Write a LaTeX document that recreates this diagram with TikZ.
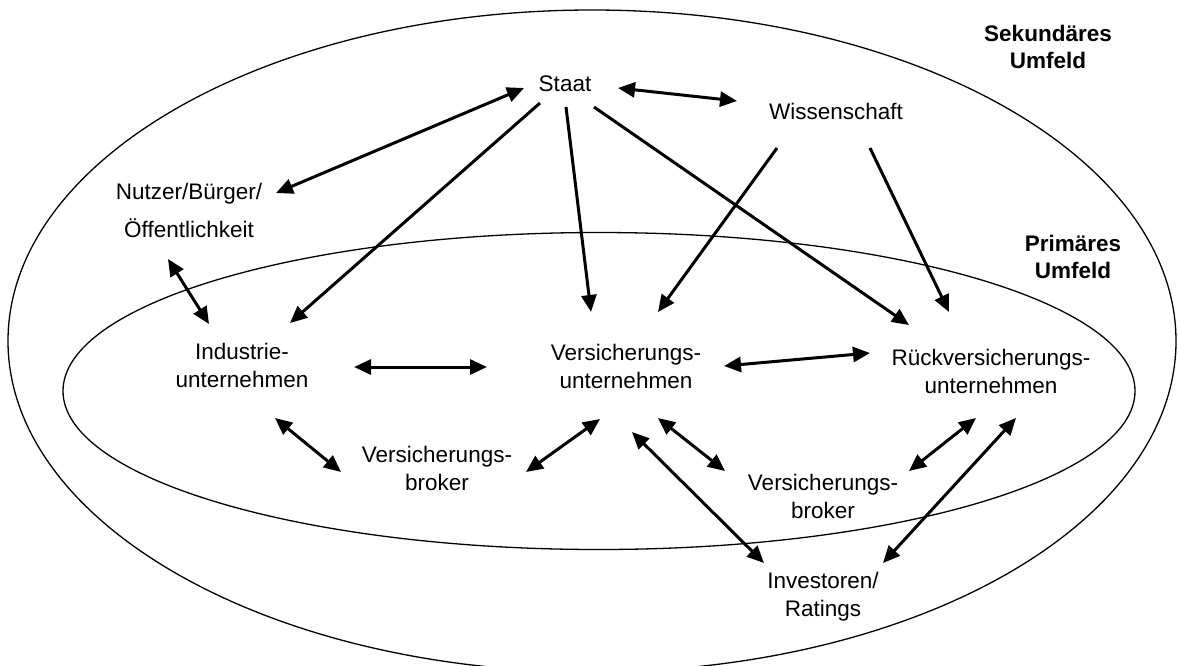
\documentclass[tikz,border=0pt]{standalone}
\usepackage{fontspec}
\setmainfont{Liberation Sans}
\usetikzlibrary{arrows.meta}
\tikzset{
  lbl/.style={align=center, inner sep=0pt, font=\fontsize{22.5}{28}\selectfont},
  hdr/.style={lbl, font=\fontsize{22.5}{27}\selectfont\bfseries},
  ring/.style={draw=black, line width=1.3pt},
  tip/.style={Triangle[length=17pt,width=15pt]},
  conn/.style={line width=3pt, -{Triangle[length=17pt,width=15pt]}},
  dconn/.style={line width=3pt, {Triangle[length=17pt,width=15pt]}-{Triangle[length=17pt,width=15pt]}}
}
\begin{document}
\begin{tikzpicture}[x=1pt,y=-1pt]
\useasboundingbox (0,0) rectangle (1178,665);
% ellipses
\draw[ring] (592,341) ellipse [x radius=584, y radius=331];
\draw[ring] (599,391) ellipse [x radius=536, y radius=158.5];
% labels
\node[hdr] (sek) at (1048,47) {Sekundäres\\Umfeld};
\node[hdr] (prim) at (1073,257) {Primäres\\Umfeld};
\node[lbl] (staat) at (565,84) {Staat};
\node[lbl] (wiss) at (836,111) {Wissenschaft};
\node[lbl, font=\fontsize{22.5}{38}\selectfont] (nutzer) at (189,210) {Nutzer/Bürger/\\Öffentlichkeit};
\node[lbl] (ind) at (242,365) {Industrie-\\unternehmen};
\node[lbl] (vu) at (626,366) {Versicherungs-\\unternehmen};
\node[lbl] (rv) at (991,371) {Rückversicherungs-\\unternehmen};
\node[lbl] (brl) at (437,468) {Versicherungs-\\broker};
\node[lbl] (brr) at (823,496) {Versicherungs-\\broker};
\node[lbl] (inv) at (823,597) {Investoren/\\Ratings};
% connector end points
\coordinate (a1s) at (524,88);   \coordinate (a1e) at (276,193);
\coordinate (a2s) at (540,103);  \coordinate (a2e) at (290,323);
\coordinate (a3s) at (566,107);  \coordinate (a3e) at (591,312);
\coordinate (a4s) at (594,107);  \coordinate (a4e) at (909,325);
\coordinate (a5s) at (618,88);   \coordinate (a5e) at (737,101);
\coordinate (a6s) at (777,148);  \coordinate (a6e) at (658,312);
\coordinate (a7s) at (870,148);  \coordinate (a7e) at (949,312);
\coordinate (a8s) at (168,259);  \coordinate (a8e) at (209,324);
\coordinate (a9s) at (354,367);  \coordinate (a9e) at (487,367);
\coordinate (a10s) at (724,366); \coordinate (a10e) at (870,353);
\coordinate (a11s) at (275,418); \coordinate (a11e) at (341,472);
\coordinate (a12s) at (526,472); \coordinate (a12e) at (600,419);
\coordinate (a13s) at (658,418); \coordinate (a13e) at (725,471);
\coordinate (a14s) at (632,432); \coordinate (a14e) at (764,563);
\coordinate (a15s) at (976,418); \coordinate (a15e) at (909,471);
\coordinate (a16s) at (1016,418);\coordinate (a16e) at (883,563);
% connectors
\draw[dconn] (a1s) -- (a1e);
\draw[conn] (a2s) -- (a2e);
\draw[conn] (a3s) -- (a3e);
\draw[conn] (a4s) -- (a4e);
\draw[dconn] (a5s) -- (a5e);
\draw[conn] (a6s) -- (a6e);
\draw[conn] (a7s) -- (a7e);
\draw[dconn] (a8s) -- (a8e);
\draw[dconn] (a9s) -- (a9e);
\draw[dconn] (a10s) -- (a10e);
\draw[dconn] (a11s) -- (a11e);
\draw[dconn] (a12s) -- (a12e);
\draw[dconn] (a13s) -- (a13e);
\draw[dconn] (a14s) -- (a14e);
\draw[dconn] (a15s) -- (a15e);
\draw[dconn] (a16s) -- (a16e);
\end{tikzpicture}
\end{document}
